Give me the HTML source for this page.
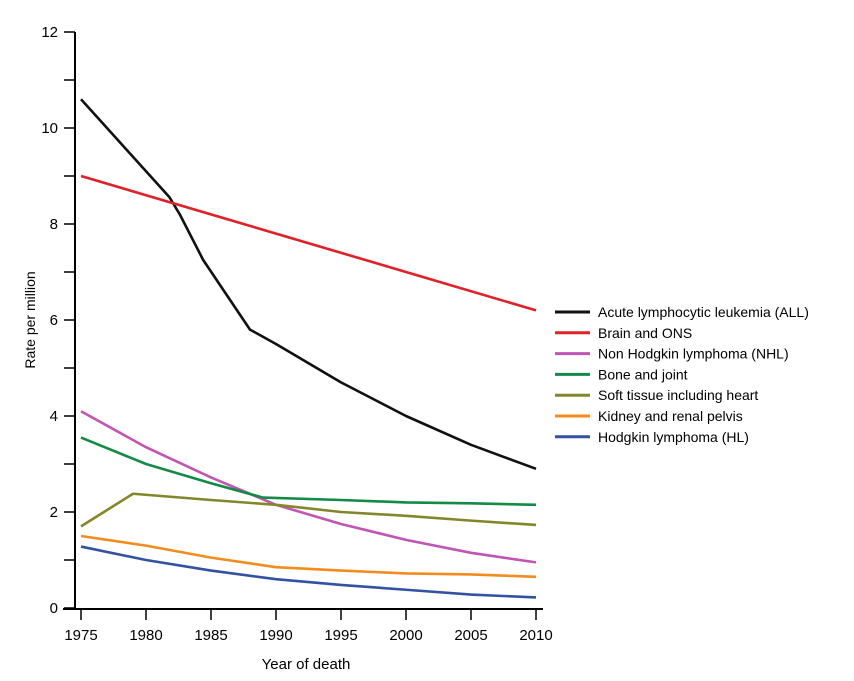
<!DOCTYPE html><html><head><style>body{margin:0;background:#fff}svg{font-family:"Liberation Sans",sans-serif}</style></head><body>
<svg id="c" width="854" height="676"></svg>
<script>
const years=[1975,1980,1985,1990,1995,2000,2005,2010];
const seriesNames=["Acute lymphocytic leukemia (ALL)","Brain and ONS","Non Hodgkin lymphoma (NHL)","Bone and joint","Soft tissue including heart","Kidney and renal pelvis","Hodgkin lymphoma (HL)"];
const seriesColors=["#111","#e02228","#c055b5","#138a45","#85852a","#f28c1e","#3452a4"];
const allX=[1975,1981.8,1982.6,1984.4,1988,1990,1995,2000,2005,2010];
const allY=[10.6,8.56,8.2,7.25,5.8,5.5,4.7,4.0,3.4,2.9];
const brainX=[1975,2010];const brainY=[9.0,6.2];
const nhlX=years;const nhlY=[4.1,3.35,2.72,2.15,1.75,1.42,1.15,0.95];
const boneX=[1975,1980,1985,1989,1995,2000,2005,2010];const boneY=[3.55,3.0,2.6,2.3,2.25,2.2,2.18,2.15];
const softX=[1975,1979,1985,1990,1995,2000,2005,2010];const softY=[1.7,2.38,2.25,2.15,2.0,1.92,1.82,1.73];
const kidX=years;const kidY=[1.5,1.3,1.05,0.85,0.78,0.72,0.7,0.65];
const hlX=years;const hlY=[1.28,1.0,0.78,0.6,0.48,0.38,0.28,0.22];
const xTicks=[1975,1980,1985,1990,1995,2000,2005,2010];
const yTicks=[0,2,4,6,8,10,12];
const X=v=>81+(v-1975)*13;const Y=v=>608-v*48;
const s=document.getElementById('c');const NS="http://www.w3.org/2000/svg";
function el(t,a,txt){const e=document.createElementNS(NS,t);for(const k in a)e.setAttribute(k,a[k]);if(txt!=null)e.textContent=txt;s.appendChild(e);return e;}
let e;
e=el('line',{x1:75,y1:32,x2:75,y2:609,stroke:'#000','stroke-width':2});

e=el('line',{x1:63,y1:609,x2:543,y2:609,stroke:'#000','stroke-width':2});

for(let v=0;v<=12;v++){e=el('line',{x1:64,y1:Y(v),x2:75,y2:Y(v),stroke:'#000','stroke-width':1.5});
}
yTicks.forEach(v=>{e=el('text',{x:58,y:Y(v)+5,'text-anchor':'end','font-size':15},v);
});
xTicks.forEach(v=>{e=el('line',{x1:X(v),y1:609,x2:X(v),y2:620,stroke:'#000','stroke-width':1.5});

e=el('text',{x:X(v),y:640,'text-anchor':'middle','font-size':15},v);
});
e=el('text',{x:306,y:669,'text-anchor':'middle','font-size':15},'Year of death');

e=el('text',{x:0,y:0,'text-anchor':'middle','font-size':14,transform:'translate(35,320) rotate(-90)'},'Rate per million');

const data=[[allX,allY],[brainX,brainY],[nhlX,nhlY],[boneX,boneY],[softX,softY],[kidX,kidY],[hlX,hlY]];
data.forEach((d,i)=>{const pts=d[0].map((x,j)=>X(x)+','+Y(d[1][j])).join(' ');
e=el('polyline',{points:pts,fill:'none',stroke:seriesColors[i],'stroke-width':2.6,'stroke-linejoin':'round'});

const ly=312+i*20.8;
e=el('line',{x1:555,y1:ly,x2:590,y2:ly,stroke:seriesColors[i],'stroke-width':3});

e=el('text',{x:598,y:ly+5,'font-size':14},seriesNames[i]);
});
</script></body></html>
